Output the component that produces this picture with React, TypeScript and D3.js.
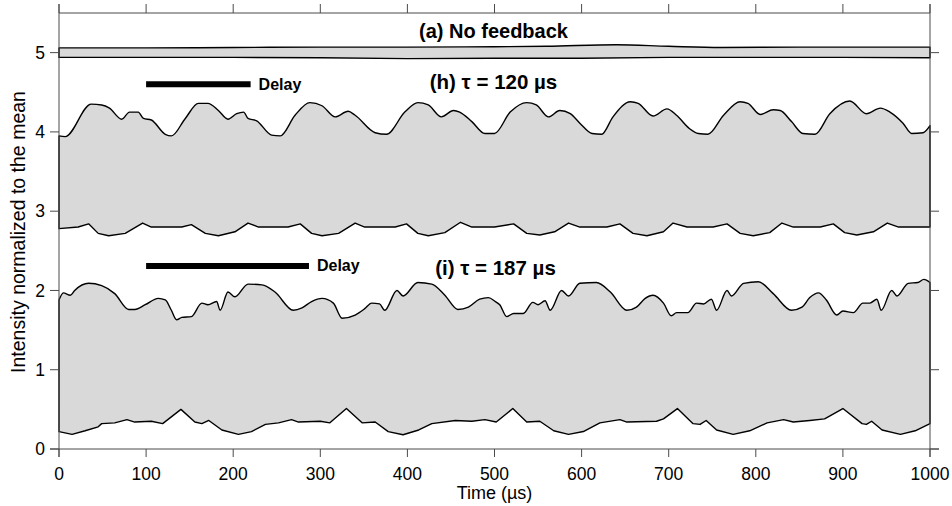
import React from "react";
import * as d3 from "d3";

// ---- data: [time (µs), intensity normalized to the mean] ----
const aUpper: [number, number][] = [
  [0, 5.06], [100, 5.06], [200, 5.065], [300, 5.07], [400, 5.07], [500, 5.075], [560, 5.08],
  [640, 5.1], [700, 5.08], [760, 5.065], [850, 5.07], [1000, 5.07],
];
const aLower: [number, number][] = [
  [0, 4.94], [100, 4.94], [200, 4.94], [300, 4.935], [400, 4.925], [500, 4.93], [600, 4.93],
  [700, 4.94], [800, 4.94], [900, 4.94], [1000, 4.935],
];

const hUpper: [number, number][] = [
  [0, 3.95], [7, 3.94], [37, 4.35], [49, 4.34], [58, 4.3], [72, 4.16], [81, 4.25], [91, 4.25], [97, 4.17],
  [106, 4.15], [122, 3.97], [129, 3.95], [145, 4.17], [160, 4.36], [171, 4.36], [183, 4.27], [194, 4.16],
  [204, 4.23], [212, 4.25], [217, 4.17], [227, 4.14], [244, 3.96], [254, 3.95], [271, 4.21], [288, 4.37],
  [302, 4.33], [317, 4.19], [332, 4.26], [340, 4.21], [363, 3.99], [376, 3.97], [397, 4.25], [412, 4.37],
  [424, 4.34], [439, 4.19], [453, 4.27], [460, 4.25], [474, 4.13], [489, 3.98], [500, 3.98], [518, 4.25],
  [537, 4.37], [548, 4.34], [562, 4.19], [575, 4.27], [587, 4.23], [598, 4.11], [612, 3.98], [623, 3.97],
  [636, 4.19], [656, 4.38], [665, 4.36], [682, 4.2], [698, 4.29], [709, 4.21], [724, 4.04], [734, 3.98],
  [745, 3.97], [763, 4.21], [782, 4.38], [791, 4.36], [805, 4.22], [820, 4.28], [828, 4.27], [841, 4.13],
  [854, 3.98], [868, 3.97], [885, 4.23], [908, 4.39], [927, 4.23], [943, 4.3], [954, 4.25], [969, 4.11],
  [979, 3.98], [992, 3.99], [1000, 4.08],
];
const hLower: [number, number][] = [
  [0, 2.78], [22, 2.8], [34, 2.84], [45, 2.72], [57, 2.69], [76, 2.72], [96, 2.85], [106, 2.8], [141, 2.8],
  [152, 2.83], [168, 2.72], [183, 2.69], [202, 2.74], [217, 2.85], [229, 2.8], [263, 2.8], [277, 2.84],
  [290, 2.72], [302, 2.69], [321, 2.72], [340, 2.85], [351, 2.8], [386, 2.8], [399, 2.84], [412, 2.72],
  [424, 2.69], [443, 2.73], [461, 2.86], [474, 2.8], [500, 2.8], [522, 2.84], [537, 2.72], [552, 2.7],
  [569, 2.74], [585, 2.85], [598, 2.8], [629, 2.8], [644, 2.84], [659, 2.72], [675, 2.69], [694, 2.74],
  [705, 2.85], [721, 2.8], [751, 2.8], [767, 2.84], [782, 2.72], [797, 2.69], [816, 2.73], [830, 2.85],
  [843, 2.8], [874, 2.8], [889, 2.84], [902, 2.73], [916, 2.7], [935, 2.74], [951, 2.85], [964, 2.8],
  [1000, 2.8],
];

const iUpper: [number, number][] = [
  [0, 1.88], [5, 1.97], [13, 1.94], [18, 2.0], [34, 2.09], [49, 2.06], [64, 1.96], [80, 1.76], [87, 1.76],
  [99, 1.82], [114, 1.9], [122, 1.88], [129, 1.75], [135, 1.63], [141, 1.66], [152, 1.67], [164, 1.84],
  [171, 1.82], [181, 1.86], [185, 1.75], [194, 1.98], [202, 1.92], [217, 2.08], [233, 2.07], [248, 1.98],
  [269, 1.75], [279, 1.78], [290, 1.86], [302, 1.9], [315, 1.84], [325, 1.65], [340, 1.69], [351, 1.77],
  [359, 1.84], [368, 1.83], [374, 1.75], [388, 2.0], [395, 1.93], [412, 2.1], [428, 2.08], [443, 1.94],
  [458, 1.76], [470, 1.79], [483, 1.89], [493, 1.91], [501, 1.86], [506, 1.82], [514, 1.67], [522, 1.71],
  [533, 1.71], [544, 1.85], [550, 1.82], [558, 1.87], [564, 1.75], [577, 2.0], [585, 1.93], [598, 2.09],
  [617, 2.1], [633, 1.98], [652, 1.75], [663, 1.79], [673, 1.9], [682, 1.94], [694, 1.84], [703, 1.68],
  [709, 1.72], [722, 1.72], [732, 1.84], [740, 1.83], [749, 1.89], [755, 1.75], [767, 2.0], [772, 1.93],
  [786, 2.09], [803, 2.11], [820, 1.96], [841, 1.75], [853, 1.79], [862, 1.91], [872, 1.97], [881, 1.88],
  [893, 1.69], [900, 1.74], [912, 1.72], [923, 1.84], [931, 1.84], [939, 1.89], [944, 1.75], [956, 2.0],
  [962, 1.93], [975, 2.09], [986, 2.1], [993, 2.14], [1000, 2.1],
];
const iLower: [number, number][] = [
  [0, 0.22], [15, 0.185], [30, 0.23], [45, 0.28], [49, 0.32], [64, 0.33], [78, 0.37], [87, 0.34],
  [106, 0.35], [119, 0.32], [140, 0.5], [156, 0.34], [164, 0.32], [172, 0.36], [187, 0.24], [206, 0.185],
  [221, 0.22], [237, 0.31], [252, 0.33], [267, 0.37], [275, 0.34], [300, 0.35], [311, 0.33], [330, 0.51],
  [348, 0.33], [363, 0.34], [378, 0.22], [395, 0.18], [413, 0.24], [428, 0.32], [455, 0.36], [474, 0.35],
  [489, 0.37], [502, 0.34], [521, 0.51], [537, 0.34], [552, 0.35], [568, 0.23], [585, 0.185], [602, 0.22],
  [621, 0.33], [644, 0.37], [652, 0.34], [686, 0.35], [694, 0.38], [710, 0.51], [728, 0.32], [736, 0.31],
  [743, 0.36], [755, 0.24], [774, 0.185], [793, 0.23], [813, 0.33], [832, 0.37], [843, 0.34], [862, 0.36],
  [879, 0.38], [900, 0.51], [922, 0.32], [927, 0.31], [933, 0.35], [945, 0.24], [966, 0.185], [983, 0.23],
  [1000, 0.32],
];

// delay bars: [start, end] in µs, at a given intensity level
const hDelay = { start: 100, end: 220, level: 4.6 };
const iDelay = { start: 100, end: 287, level: 2.31 };

const xTicks = [0, 100, 200, 300, 400, 500, 600, 700, 800, 900, 1000];
const yTicks = [0, 1, 2, 3, 4, 5];

const labels = {
  a: "(a) No feedback",
  h: "(h) τ = 120 µs",
  i: "(i) τ = 187 µs",
  delay: "Delay",
  xTitle: "Time (µs)",
  yTitle: "Intensity normalized to the mean",
};

const W = 952;
const H = 506;
const FONT = "'Liberation Sans', Arial, Helvetica, sans-serif";
const AXIS = "#4a4a4a";
const FILL = "#d9d9d9";

export default function App() {
  const x = d3.scaleLinear().domain([0, 1000]).range([59, 930]);
  const y = d3.scaleLinear().domain([0, 5.5]).range([449, 13]);
  const upperLine = d3
    .line<[number, number]>()
    .x((d) => x(d[0]))
    .y((d) => y(d[1]))
    .curve(d3.curveMonotoneX);
  const lowerLine = d3
    .line<[number, number]>()
    .x((d) => x(d[0]))
    .y((d) => y(d[1]))
    .curve(d3.curveLinear);

  const band = (up: [number, number][], lo: [number, number][]) => {
    const pu = upperLine(up) || "";
    const pl = (lowerLine(lo.slice().reverse()) || "").replace(/^M/, "L");
    return pu + pl + "Z";
  };

  const bands = [
    [aUpper, aLower],
    [hUpper, hLower],
    [iUpper, iLower],
  ];

  const [x0, x1] = x.range();
  const [yb, yt] = y.range();

  return (
    <svg
      width={W}
      height={H}
      style={{ position: "absolute", left: 0, top: 0, background: "#fff" }}
      fontFamily={FONT}
    >
      {/* bands */}
      {bands.map(([u, l], k) => (
        <path key={k} d={band(u, l)} fill={FILL} stroke="#000" strokeWidth={1.4} strokeLinejoin="round" />
      ))}

      {/* frame */}
      <g stroke={AXIS} strokeWidth={1} fill="none">
        <line x1={x0 - 9} x2={x1 + 9} y1={yb} y2={yb} />
        <line x1={x0} x2={x1} y1={yt} y2={yt} />
        <line x1={x0} x2={x0} y1={yt - 9} y2={yb + 8} />
        <line x1={x1} x2={x1} y1={yt - 9} y2={yb + 8} />
        {xTicks.map((t) => (
          <g key={"xt" + t}>
            <line x1={x(t)} x2={x(t)} y1={yb} y2={yb + 8} />
            <line x1={x(t)} x2={x(t)} y1={yt} y2={yt - 9} />
          </g>
        ))}
        {yTicks.map((t) => (
          <g key={"yt" + t}>
            <line x1={x0 - 9} x2={x0} y1={y(t)} y2={y(t)} />
            <line x1={x1} x2={x1 + 9} y1={y(t)} y2={y(t)} />
          </g>
        ))}
      </g>

      {/* tick labels */}
      {xTicks.map((t) => (
        <text key={"xl" + t} x={x(t)} y={yb + 31} fontSize={17.5} textAnchor="middle" fill="#000">
          {t}
        </text>
      ))}
      {yTicks.map((t) => (
        <text key={"yl" + t} x={x0 - 14} y={y(t) + 6.3} fontSize={17.5} textAnchor="end" fill="#000">
          {t}
        </text>
      ))}

      {/* axis titles */}
      <text x={x(500)} y={499} fontSize={18} textAnchor="middle" fill="#000">
        {labels.xTitle}
      </text>
      <text
        transform={`translate(25, 232) rotate(-90)`}
        fontSize={19.5}
        textAnchor="middle"
        fill="#000"
      >
        {labels.yTitle}
      </text>

      {/* panel labels */}
      <text x={x(500) - 1} y={38} fontSize={20} fontWeight="bold" textAnchor="middle" fill="#000">
        {labels.a}
      </text>
      <text x={x(500) - 1} y={89} fontSize={20.5} fontWeight="bold" textAnchor="middle" fill="#000">
        {labels.h}
      </text>
      <text x={x(500) + 1} y={275} fontSize={20.5} fontWeight="bold" textAnchor="middle" fill="#000">
        {labels.i}
      </text>

      {/* delay bars */}
      {[hDelay, iDelay].map((d, k) => (
        <g key={"d" + k}>
          <line x1={x(d.start)} x2={x(d.end)} y1={y(d.level)} y2={y(d.level)} stroke="#000" strokeWidth={6} />
          <text x={x(d.end) + 8} y={y(d.level) + 5.5} fontSize={16} fontWeight="bold" fill="#000">
            {labels.delay}
          </text>
        </g>
      ))}
    </svg>
  );
}
